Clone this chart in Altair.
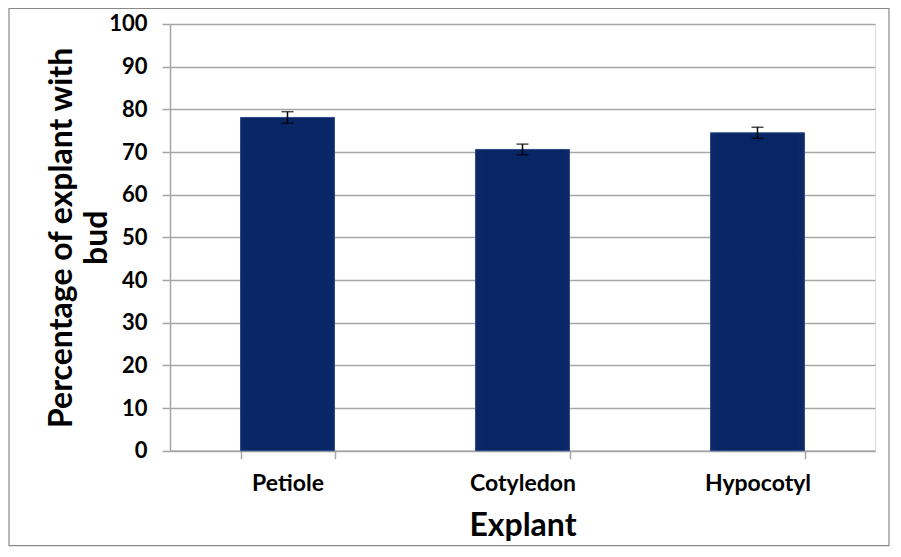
import altair as alt
import pandas as pd

explants = ["Petiole", "Cotyledon", "Hypocotyl"]
means = [78.1, 70.6, 74.5]
errs = [1.35, 1.25, 1.3]

df = pd.DataFrame({"Explant": explants, "mean": means, "err": errs})
df["lo"] = df["mean"] - df["err"]
df["hi"] = df["mean"] + df["err"]

W, H = 705, 426.7
GRAY = "#a6a6a6"
FONT = "Lato"

x = alt.X(
    "Explant:N",
    sort=explants,
    scale=alt.Scale(paddingInner=0.6, paddingOuter=0.3),
    axis=alt.Axis(
        title="Explant",
        labelAngle=0,
        tickBand="extent",
        tickSize=8,
        tickColor=GRAY,
        tickWidth=1.5,
        domainColor=GRAY,
        domainWidth=1.5,
        labelFontSize=23,
        labelFontWeight="bold",
        labelColor="black",
        labelPadding=14,
        titleFontSize=32,
        titleFontWeight="bold",
        titleColor="black",
        titlePadding=15,
        grid=False,
    ),
)

y_axis = alt.Axis(
    title=["Percentage of explant with", "bud"],
    values=list(range(0, 101, 10)),
    grid=True,
    gridColor=GRAY,
    gridWidth=1.5,
    tickSize=8,
    tickColor=GRAY,
    tickWidth=1.5,
    domainColor=GRAY,
    domainWidth=1.5,
    labelFontSize=22,
    labelFontWeight="bold",
    labelColor="black",
    labelPadding=15,
    titleFontSize=32,
    titleFontWeight="bold",
    titleColor="black",
    titleLineHeight=35,
    titlePadding=-5,
)

base = alt.Chart(df)

bars = base.mark_bar(
    color=alt.Gradient(
        gradient="linear",
        x1=0, x2=1, y1=0, y2=0,
        stops=[
            alt.GradientStop(offset=0, color="#0d2b6b"),
            alt.GradientStop(offset=0.08, color="#082566"),
            alt.GradientStop(offset=0.92, color="#082566"),
            alt.GradientStop(offset=1, color="#0d2b6b"),
        ],
    ),
    stroke="#2c4a86",
    strokeWidth=1,
).encode(
    x=x,
    y=alt.Y("mean:Q", scale=alt.Scale(domain=[0, 100], nice=False), axis=y_axis),
)

rules = base.mark_rule(color="black", strokeWidth=1.5).encode(
    x=alt.X("Explant:N", sort=explants),
    y="lo:Q",
    y2="hi:Q",
)

caps_lo = base.mark_tick(color="black", size=12, thickness=1.5).encode(
    x=alt.X("Explant:N", sort=explants), y="lo:Q"
)
caps_hi = base.mark_tick(color="black", size=12, thickness=1.5).encode(
    x=alt.X("Explant:N", sort=explants), y="hi:Q"
)

border = alt.Chart(pd.DataFrame({"a": [0]})).mark_rect(
    fill="transparent", stroke="#888888", strokeWidth=1.2
).encode(
    x=alt.value(-161),
    x2=alt.value(W + 14),
    y=alt.value(-15.5),
    y2=alt.value(H + 95),
)

chart = (
    alt.layer(bars, rules, caps_lo, caps_hi, border)
    .properties(
        width=W,
        height=H,
        autosize=alt.AutoSizeParams(type="none"),
        padding={"left": 162, "top": 16, "right": 16, "bottom": 97},
    )
    .configure_view(stroke=None)
    .configure(font=FONT, background="white")
)

chart.save("out.html", embed_options={"renderer": "svg", "actions": False})
